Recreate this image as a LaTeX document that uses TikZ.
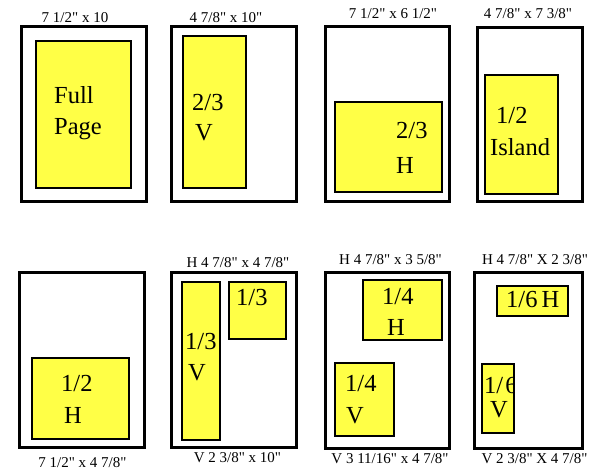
\documentclass[tikz,border=0pt]{standalone}
\usepackage{fontspec}
\setmainfont[Ligatures=TeXOff]{Liberation Serif}
\definecolor{adyellow}{RGB}{255,255,70}
\begin{document}
\begin{tikzpicture}[x=1pt,y=-1pt,
  sheet/.style={draw=black, line width=3pt, fill=white, rectangle,
    inner sep=0pt, outer sep=0pt, anchor=north west},
  ad/.style={draw=black, line width=2.6pt, fill=adyellow, rectangle,
    inner sep=0pt, outer sep=0pt, anchor=north west},
  dim/.style={font=\fontsize{15}{18}\selectfont, inner sep=0pt, anchor=base},
  lbl/.style={font=\fontsize{24.5}{29}\selectfont, inner sep=0pt, anchor=base west},
]
\useasboundingbox[fill=white] (0,0) rectangle (600,469);

% ---- top row ----
% full page
\node[sheet, minimum width=125pt, minimum height=175pt] (s1) at (21,26) {};
\node[ad, minimum width=95pt, minimum height=147pt] (a1) at (36,41) {};
\node[dim] (d1) at (75,22) {7 1/2" x 10};
\node[lbl] (t1a) at (54,103) {Full};
\node[lbl] (t1b) at (54,134) {Page};

% two-thirds vertical
\node[sheet, minimum width=125pt, minimum height=175pt] (s2) at (171,26) {};
\node[ad, minimum width=63pt, minimum height=152pt] (a2) at (183,36) {};
\node[dim] (d2) at (226,22) {4 7/8" x 10"};
\node[lbl] (t2a) at (192,110) {2/3};
\node[lbl] (t2b) at (195,140) {V};

% two-thirds horizontal
\node[sheet, minimum width=124pt, minimum height=175pt] (s3) at (325,26) {};
\node[ad, minimum width=107pt, minimum height=90pt] (a3) at (335,102) {};
\node[dim] (d3) at (393,18) {7 1/2" x 6 1/2"};
\node[lbl] (t3a) at (396,138) {2/3};
\node[lbl] (t3b) at (396,173) {H};

% half island
\node[sheet, minimum width=105pt, minimum height=174pt] (s4) at (477,27) {};
\node[ad, minimum width=73pt, minimum height=119pt] (a4) at (485,75) {};
\node[dim] (d4) at (528,18) {4 7/8" x 7 3/8"};
\node[lbl] (t4a) at (496,123) {1/2};
\node[lbl] (t4b) at (490,155) {Island};

% ---- bottom row ----
% half horizontal
\node[sheet, minimum width=125pt, minimum height=175pt] (s5) at (19,272) {};
\node[ad, minimum width=97pt, minimum height=81pt] (a5) at (32,358) {};
\node[dim] (d5) at (82.5,467) {7 1/2" x 4 7/8"};
\node[lbl] (t5a) at (61,391) {1/2};
\node[lbl] (t5b) at (64,423) {H};

% one-third vertical and square
\node[sheet, minimum width=125pt, minimum height=175pt] (s6) at (171,272) {};
\node[ad, minimum width=38pt, minimum height=158pt] (a6v) at (182,282) {};
\node[ad, minimum width=57pt, minimum height=57pt] (a6s) at (229,282) {};
\node[dim] (d6t) at (238,267) {H 4 7/8" x 4 7/8"};
\node[dim] (d6b) at (237.5,462) {V 2 3/8" x 10"};
\node[lbl] (t6a) at (185,349) {1/3};
\node[lbl] (t6b) at (188,380) {V};
\node[lbl] (t6c) at (236,305) {1/3};

% quarter horizontal and vertical
\node[sheet, minimum width=124pt, minimum height=176pt] (s7) at (325,272) {};
\node[ad, minimum width=79pt, minimum height=60pt] (a7h) at (363,280) {};
\node[ad, minimum width=59pt, minimum height=73pt] (a7v) at (335,363) {};
\node[dim] (d7t) at (390.5,264) {H 4 7/8" x 3 5/8"};
\node[dim] (d7b) at (390,463) {V 3 11/16" x 4 7/8"};
\node[lbl] (t7a) at (382,304) {1/4};
\node[lbl] (t7b) at (387,335) {H};
\node[lbl] (t7c) at (345,391) {1/4};
\node[lbl] (t7d) at (346,423) {V};

% sixth horizontal and vertical
\node[sheet, minimum width=108pt, minimum height=176pt] (s8) at (474,272) {};
\node[ad, minimum width=71pt, minimum height=30pt] (a8h) at (497,286) {};
\node[ad, minimum width=32pt, minimum height=69pt] (a8v) at (482,364) {};
\node[dim] (d8t) at (535,264) {H 4 7/8" X 2 3/8"};
\node[dim] (d8b) at (534.5,463) {V 2 3/8" X 4 7/8"};
\node[lbl] (t8a) at (506,307) {1/6\,H};
\begin{scope}
  \clip (a8v.north west) rectangle (a8v.south east);
  \node[lbl] (t8b) at (484,393) {1/\kern2pt6};
\end{scope}
\draw[line width=2.6pt] (a8v.north west) rectangle (a8v.south east);
\node[lbl] (t8c) at (490,417) {V};
\end{tikzpicture}
\end{document}
